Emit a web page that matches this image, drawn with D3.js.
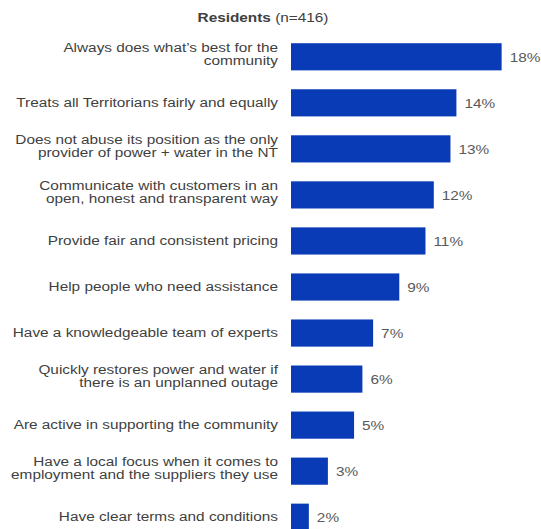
<!DOCTYPE html>
<html>
<head>
<meta charset="utf-8">
<script src="https://cdn.jsdelivr.net/npm/d3@7"></script>
<style>
  html, body { margin: 0; padding: 0; background: #ffffff; }
  svg { display: block; }
  text { font-family: "Liberation Sans", Arial, sans-serif; }
</style>
</head>
<body>
<div id="chart"></div>
<script>
// ---- data ----
const titleBold = "Residents";
const titleRest = " (n=416)";
const categories = [
  ["Always does what\u2019s best for the", "community"],
  ["Treats all Territorians fairly and equally"],
  ["Does not abuse its position as the only", "provider of power + water in the NT"],
  ["Communicate with customers in an", "open, honest and transparent way"],
  ["Provide fair and consistent pricing"],
  ["Help people who need assistance"],
  ["Have a knowledgeable team of experts"],
  ["Quickly restores power and water if", "there is an unplanned outage"],
  ["Are active in supporting the community"],
  ["Have a local focus when it comes to", "employment and the suppliers they use"],
  ["Have clear terms and conditions"]
];
const values = [17.7, 13.9, 13.4, 12.0, 11.3, 9.1, 6.9, 6.0, 5.3, 3.1, 1.5];

// ---- layout ----
const W = 541, H = 529;
const SX = 1.28; // horizontal text stretch of the reference
const svg = d3.select("#chart").append("svg").attr("width", W).attr("height", H);

const y = d3.scaleBand()
  .domain(d3.range(categories.length))
  .range([34, 540])
  .paddingInner(0.41)
  .paddingOuter(0.2);

const x = d3.scaleLinear().domain([0, 20]).range([291, 529]);

// bars
svg.append("g").selectAll("rect")
  .data(values)
  .join("rect")
  .attr("x", x(0))
  .attr("y", (d, i) => y(i))
  .attr("width", d => x(d) - x(0))
  .attr("height", y.bandwidth())
  .attr("fill", "#0a3bb6");

// category labels (stretched horizontally)
const lab = svg.append("g").attr("transform", `scale(${SX},1)`);
categories.forEach((lines, i) => {
  const c = y(i) + y.bandwidth() / 2;
  const t = lab.append("text")
    .attr("text-anchor", "end")
    .attr("font-size", 12)
    .attr("fill", "#3f3f3f");
  const base = lines.length === 1 ? c + 4 : c - 5;
  lines.forEach((ln, k) => {
    t.append("tspan")
      .attr("x", 278 / SX)
      .attr("y", base + k * 13)
      .text(ln);
  });
});

// value labels
const vl = svg.append("g").attr("transform", `scale(${SX},1)`);
vl.selectAll("text")
  .data(values)
  .join("text")
  .attr("x", d => (x(d) + 8) / SX)
  .attr("y", (d, i) => y(i) + y.bandwidth() / 2 + 5)
  .attr("font-size", 12)
  .attr("fill", "#595959")
  .text(d => Math.round(d) + "%");

// title
const tt = svg.append("g").attr("transform", `scale(${SX},1)`)
  .append("text")
  .attr("x", 263 / SX)
  .attr("y", 22)
  .attr("text-anchor", "middle")
  .attr("font-size", 12)
  .attr("fill", "#404040");
tt.append("tspan").attr("font-weight", "bold").text(titleBold);
tt.append("tspan").text(titleRest);
</script>
</body>
</html>
